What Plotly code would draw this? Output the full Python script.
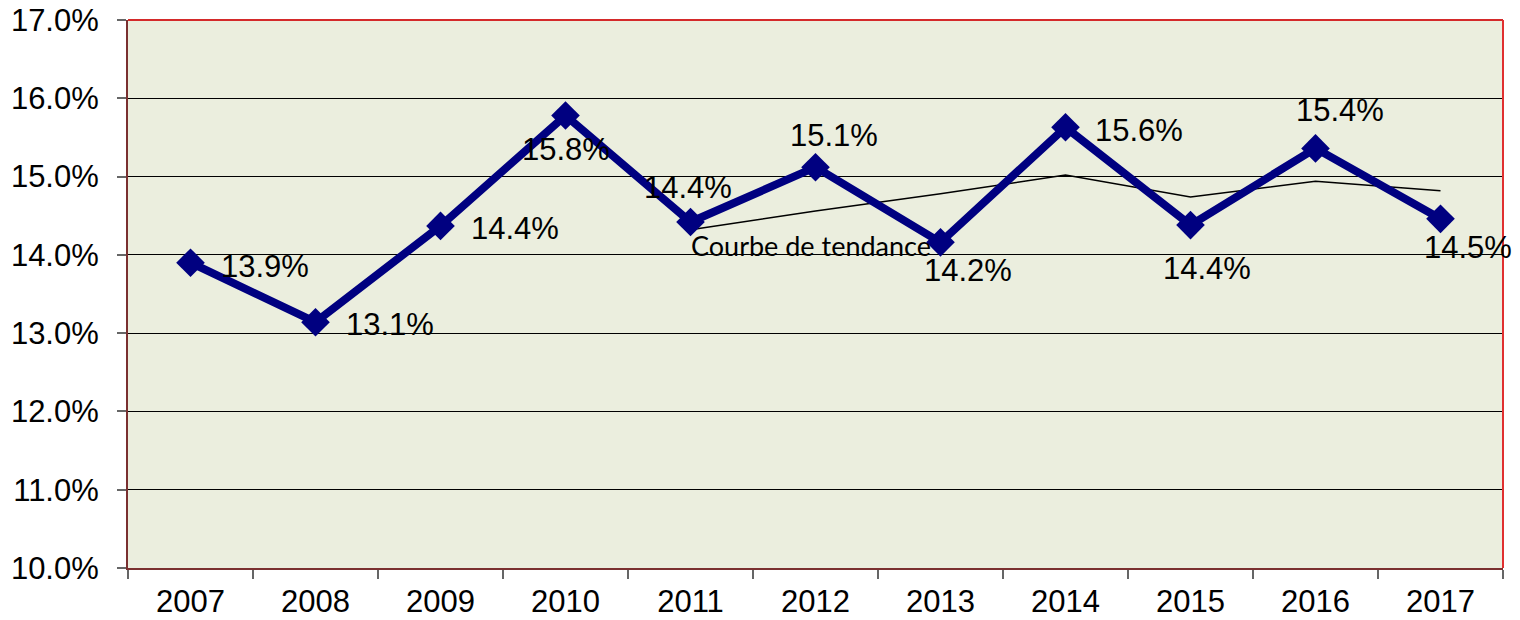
import plotly.graph_objects as go

years = ["2007", "2008", "2009", "2010", "2011", "2012", "2013", "2014", "2015", "2016", "2017"]
values = [13.9, 13.14, 14.37, 15.78, 14.42, 15.12, 14.16, 15.63, 14.38, 15.36, 14.46]
labels = ["13.9%", "13.1%", "14.4%", "15.8%", "14.4%", "15.1%", "14.2%", "15.6%", "14.4%", "15.4%", "14.5%"]
trend_years = ["2011", "2012", "2013", "2014", "2015", "2016", "2017"]
trend_values = [14.32, 14.56, 14.78, 15.02, 14.74, 14.94, 14.82]
y_ticks = [10, 11, 12, 13, 14, 15, 16, 17]

# label placement offsets (pixels) relative to each point
label_dx = [74, 74, 74, 0, -3, 18, 27, 73, 16, 24, 27]
label_dy = [-4, -2, -3, -34, 34, 32, -28, -3, -43, 38, -29]

FONT = "Liberation Sans, Arial, sans-serif"

fig = go.Figure()
fig.add_trace(go.Scatter(
    x=trend_years, y=trend_values, mode="lines",
    line=dict(color="black", width=1.5), hoverinfo="skip", showlegend=False))
fig.add_trace(go.Scatter(
    x=years, y=values, mode="lines+markers",
    line=dict(color="#000080", width=8),
    marker=dict(symbol="diamond", size=22, color="#000080"),
    showlegend=False, cliponaxis=False))

for i, (v, t, dx, dy) in enumerate(zip(values, labels, label_dx, label_dy)):
    fig.add_annotation(x=i, y=v, text=t, showarrow=False, xanchor="center", yanchor="middle",
                       xshift=dx, yshift=dy, font=dict(family=FONT, size=31, color="black"))

fig.add_annotation(x=years.index(trend_years[0]), y=trend_values[0], text="Courbe de tendance",
                   showarrow=False, xanchor="left", yanchor="middle", xshift=-2, yshift=-16,
                   font=dict(family="Lato, Open Sans, sans-serif", size=27, color="black"))

# top & right border of plot area
fig.add_shape(type="line", xref="paper", yref="paper", x0=0, x1=1, y0=1, y1=1,
              line=dict(color="#D42A2A", width=2))
fig.add_shape(type="line", xref="paper", yref="paper", x0=1, x1=1, y0=0, y1=1,
              line=dict(color="#E03030", width=2))

# the page body adds an 8px offset, so the figure is sized to fit the 1520x620 window
fig.update_layout(
    width=1512, height=612,
    margin=dict(l=120, r=17, t=12, b=52),
    paper_bgcolor="white", plot_bgcolor="#EBEEDE",
    font=dict(family=FONT, size=31, color="black"),
    xaxis=dict(type="category", categoryorder="array", categoryarray=years,
               range=[-0.5, len(years) - 0.5], tickson="boundaries", automargin=False,
               ticks="outside", ticklen=9, tickcolor="#666666", tickwidth=1.5,
               ticklabelstandoff=5, ticklabeloverflow="allow",
               showline=True, linecolor="#7A3030", linewidth=2, showgrid=False,
               tickfont=dict(family=FONT, size=31, color="black")),
    yaxis=dict(range=[10, 17], tickvals=y_ticks, ticktext=[f"{t:.1f}%" for t in y_ticks],
               automargin=False, ticklabelstandoff=12, ticklabeloverflow="allow",
               ticks="outside", ticklen=9, tickcolor="#666666", tickwidth=1.5,
               showline=True, linecolor="#7A3030", linewidth=2,
               showgrid=True, gridcolor="black", gridwidth=1, zeroline=False,
               tickfont=dict(family=FONT, size=31, color="black")),
)

fig.write_html("out.html")
